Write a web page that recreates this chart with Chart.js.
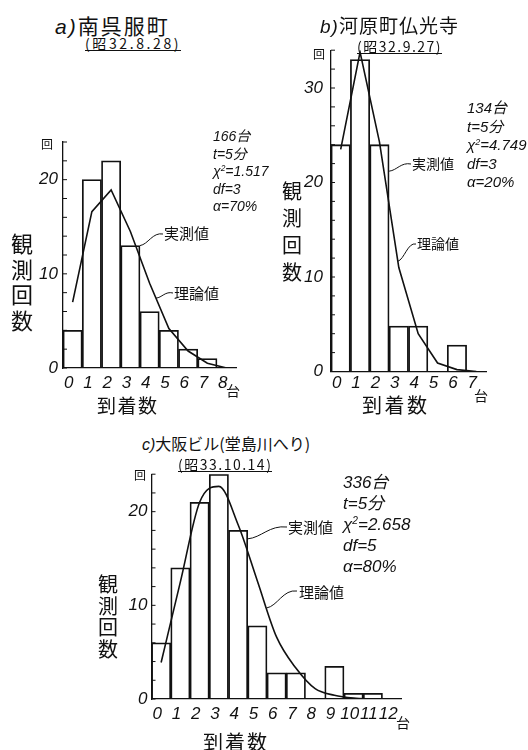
<!DOCTYPE html>
<html lang="ja">
<head>
<meta charset="utf-8">
<script src="https://cdn.jsdelivr.net/npm/chart.js@4.4.1/dist/chart.umd.min.js"></script>
<style>
  html, body { margin: 0; padding: 0; background: #fff; }
  #page { position: relative; width: 528px; height: 750px; overflow: hidden;
          font-family: "Noto Sans CJK JP", sans-serif; color: #111; }
  canvas { position: absolute; }
  .t { position: absolute; white-space: nowrap; line-height: 1; }
  .num { font-family: "Liberation Sans", "Noto Sans CJK JP", sans-serif; font-style: italic; }
  .sub { border-bottom: 1px solid #111; }
  .stats { position: absolute; white-space: nowrap; font-family: "Liberation Sans", "Noto Sans CJK JP", sans-serif; font-style: italic; }
  .stats sup { font-size: 0.6em; vertical-align: 0.6em; line-height: 0; }
</style>
</head>
<body>
<div id="page">
  <canvas id="chartA" width="264" height="290" style="left:0px;top:120px;"></canvas>
  <canvas id="chartB" width="264" height="380" style="left:264px;top:30px;"></canvas>
  <canvas id="chartC" width="528" height="270" style="left:0px;top:460px;"></canvas>

  <!-- a) -->
  <div class="t" style="left:55px;top:15px;font-size:21px;letter-spacing:2px;"><span class="num">a)</span>南呉服町</div>
  <div class="t sub" style="left:85px;top:36px;font-size:14px;letter-spacing:2.6px;">(昭32.8.28)</div>
  <div class="t" style="left:41px;top:138px;font-size:12px;">回</div>
  <div class="t" style="left:11px;top:230px;font-size:22px;line-height:25.7px;">観<br>測<br>回<br>数</div>
  <div class="t" style="left:97px;top:395px;font-size:19px;letter-spacing:1.5px;">到着数</div>
  <div class="t" style="left:226px;top:383px;font-size:14px;">台</div>
  <div class="stats" style="left:213px;top:128px;font-size:14px;line-height:17.5px;">166台<br>t=5分<br>χ<sup>2</sup>=1.517<br>df=3<br>α=70%</div>
  <div class="t" style="left:164px;top:225px;font-size:15px;">実測値</div>
  <div class="t" style="left:174px;top:285px;font-size:15px;">理論値</div>

  <!-- b) -->
  <div class="t" style="left:320px;top:15px;font-size:19px;letter-spacing:1px;"><span class="num">b)</span>河原町仏光寺</div>
  <div class="t sub" style="left:357px;top:39px;font-size:14px;letter-spacing:1.5px;">(昭32.9.27)</div>
  <div class="t" style="left:313px;top:48px;font-size:12px;">回</div>
  <div class="t" style="left:282px;top:177px;font-size:20px;line-height:27px;">観<br>測<br>回<br>数</div>
  <div class="t" style="left:362px;top:395px;font-size:20px;letter-spacing:2.5px;">到着数</div>
  <div class="t" style="left:474px;top:388px;font-size:14px;">台</div>
  <div class="stats" style="left:467px;top:99px;font-size:15px;line-height:18.5px;">134台<br>t=5分<br>χ<sup>2</sup>=4.749<br>df=3<br>α=20%</div>
  <div class="t" style="left:412px;top:156px;font-size:14px;">実測値</div>
  <div class="t" style="left:417px;top:236px;font-size:14px;">理論値</div>

  <!-- c) -->
  <div class="t" style="left:142px;top:435px;font-size:16px;"><span class="num">c)</span>大阪ビル(堂島川へり)</div>
  <div class="t sub" style="left:178px;top:457px;font-size:14px;letter-spacing:1.5px;">(昭33.10.14)</div>
  <div class="t" style="left:134px;top:469px;font-size:12px;">回</div>
  <div class="t" style="left:98px;top:573px;font-size:20px;line-height:21.5px;">観<br>測<br>回<br>数</div>
  <div class="t" style="left:203px;top:732px;font-size:20px;letter-spacing:2px;">到着数</div>
  <div class="t" style="left:396px;top:715px;font-size:14px;">台</div>
  <div class="stats" style="left:343px;top:472px;font-size:17px;line-height:21px;">336台<br>t=5分<br>χ<sup>2</sup>=2.658<br>df=5<br>α=80%</div>
  <div class="t" style="left:288px;top:519px;font-size:15px;">実測値</div>
  <div class="t" style="left:299px;top:584px;font-size:15px;">理論値</div>
</div>

<script>
// a) 南呉服町
const labelsA = ['0', '1', '2', '3', '4', '5', '6', '7', '8'];
const observedA = [4, 20, 22, 13, 6, 4, 2, 1, null];
const theoryA = [7, 16.6, 18.9, 14.5, 9, 4.2, 1.8, 0.5, 0];

// b) 河原町仏光寺
const labelsB = ['0', '1', '2', '3', '4', '5', '6', '7'];
const observedB = [24, 33, 24, 4.8, 4.8, 0, 2.8, null];
const theoryB = [23.5, 33.8, 24.3, 11, 4, 0.9, 0.2, 0];

// c) 大阪ビル
const labelsC = ['0', '1', '2', '3', '4', '5', '6', '7', '8', '9', '10', '11', '12'];
const observedC = [6, 14, 21, 24, 18, 7.8, 2.8, 2.8, 0, 3.5, 0.6, 0.6, null];
const theoryC = [3.9, 12.5, 21, 22.7, 18.6, 12.6, 6.6, 3.3, 1.1, 0.4, 0.1, 0, null];

const ink = '#111';

// short marks inside the y axis + leader lines from the notes to the marks
function overlay(origin, leaders, theory) {
    return {
        id: 'overlay',
        afterDatasetsDraw(chart) {
            const ctx = chart.ctx;
            const x = chart.scales.x, y = chart.scales.y;
            ctx.save();
            ctx.strokeStyle = ink;
            ctx.lineWidth = 1;
            y.ticks.forEach(t => {
                const py = y.getPixelForValue(t.value);
                ctx.beginPath();
                ctx.moveTo(x.left, py);
                ctx.lineTo(x.left + 4, py);
                ctx.stroke();
            });
            leaders.forEach(l => {
                let v = l.v;
                if (v === undefined) {
                    // point on the theory curve
                    const i = Math.floor(l.i), f = l.i - i;
                    v = theory[i] + (theory[i + 1] - theory[i]) * f;
                }
                const ex = x.getPixelForValue(l.i), ey = y.getPixelForValue(v);
                const sx = l.from[0] - origin[0], sy = l.from[1] - origin[1];
                const dx = sx - ex;
                ctx.beginPath();
                ctx.moveTo(sx, sy);
                ctx.bezierCurveTo(sx - dx * 0.45, sy - 2, ex + dx * 0.35, ey - (ey - sy) * 0.1, ex, ey);
                ctx.stroke();
            });
            ctx.restore();
        }
    };
}

function makeChart(id, labels, observed, theory, cfg) {
    return new Chart(document.getElementById(id), {
        type: 'bar',
        data: {
            labels: labels,
            datasets: [
                {
                    type: 'line',
                    data: theory,
                    borderColor: ink,
                    borderWidth: 1.6,
                    pointRadius: 0,
                    tension: cfg.smooth ? 0.4 : 0,
                    cubicInterpolationMode: cfg.smooth ? 'monotone' : 'default',
                    order: 0
                },
                {
                    type: 'bar',
                    data: observed,
                    backgroundColor: 'rgba(255,255,255,0)',
                    borderColor: ink,
                    borderWidth: 1.1,
                    barPercentage: 1,
                    categoryPercentage: 1,
                    order: 1
                }
            ]
        },
        options: {
            responsive: false,
            animation: false,
            layout: { padding: cfg.padding },
            plugins: { legend: { display: false }, tooltip: { enabled: false } },
            scales: {
                x: {
                    grid: { display: true, drawOnChartArea: false, drawTicks: false },
                    border: { color: ink, width: 1.3 },
                    ticks: {
                        color: ink,
                        autoSkip: false,
                        maxRotation: 0,
                        padding: cfg.xPad,
                        labelOffset: -4,
                        font: { family: 'Liberation Sans', size: 17, style: 'italic' }
                    },
                    afterFit: s => { s.height = 24; }
                },
                y: {
                    min: 0,
                    max: cfg.yMax,
                    grid: { display: true, drawOnChartArea: false, drawTicks: false },
                    border: { color: ink, width: 1.3 },
                    ticks: {
                        stepSize: 2,
                        autoSkip: false,
                        color: ink,
                        padding: cfg.yPad,
                        font: { family: 'Liberation Sans', size: 17, style: 'italic' },
                        callback: v => (v % 10 === 0 ? v : '')
                    },
                    afterFit: s => { s.width = 40; }
                }
            }
        },
        plugins: [overlay(cfg.origin, cfg.leaders, theory)]
    });
}

makeChart('chartA', labelsA, observedA, theoryA, {
    origin: [0, 120],
    padding: { left: 23, top: 22, right: 27.75, bottom: 18 },
    yMax: 24, xPad: 5.5, yPad: 5,
    leaders: [
        { from: [163, 234], i: 3.5, v: 13 },
        { from: [173, 293], i: 4.33 }
    ]
});

makeChart('chartB', labelsB, observedB, theoryB, {
    origin: [264, 30],
    padding: { left: 27, top: 20.2, right: 42, bottom: 14.5 },
    yMax: 34, xPad: 2, yPad: 8,
    leaders: [
        { from: [411, 164], i: 2.5, v: 21.2 },
        { from: [416, 244], i: 2.95 }
    ]
});

makeChart('chartC', labelsC, observedC, theoryC, {
    origin: [0, 460],
    padding: { left: 111.5, top: 12.2, right: 126.25, bottom: 7 },
    yMax: 24, xPad: 5.5, yPad: 4,
    smooth: true,
    leaders: [
        { from: [287, 527], i: 4.5, v: 17.1 },
        { from: [297, 591], i: 5.48 }
    ]
});
</script>
</body>
</html>
